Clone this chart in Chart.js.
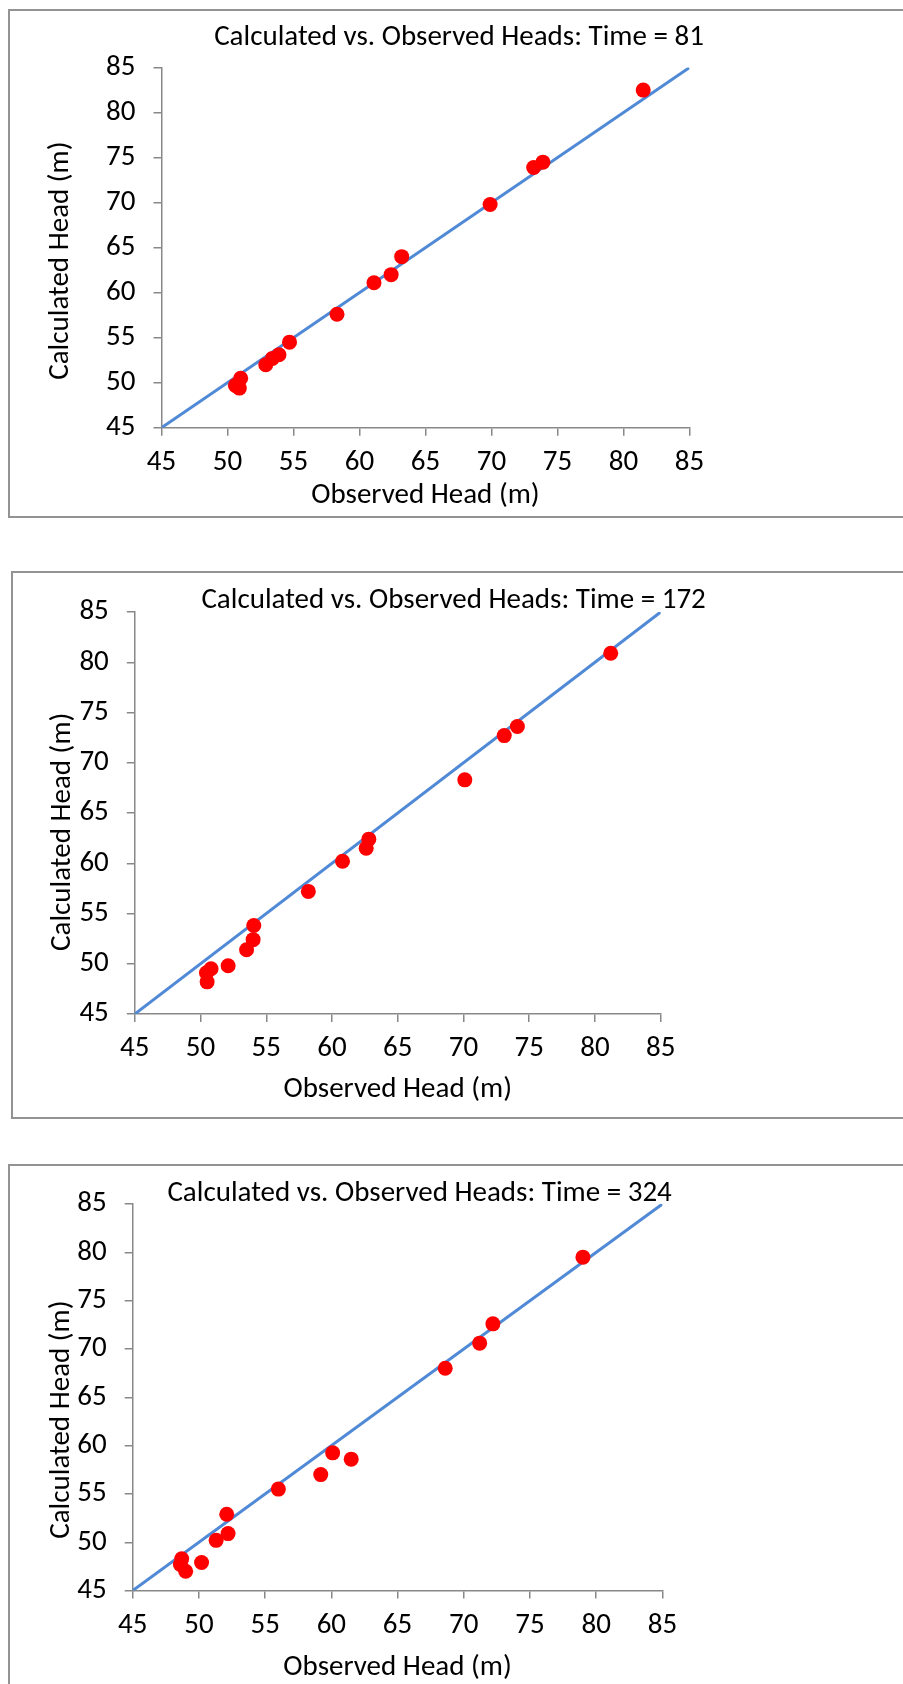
<!DOCTYPE html>
<html>
<head>
<meta charset="utf-8">
<script src="https://cdn.jsdelivr.net/npm/chart.js@4.4.1/dist/chart.umd.min.js"></script>
<style>
  html, body { margin: 0; padding: 0; background: #fff; }
  body { width: 903px; height: 1684px; position: relative; overflow: hidden; }
  .frame { position: absolute; border: 2px solid #939393; border-right: none; box-sizing: border-box; width: 1000px; }
  canvas { position: absolute; left: 0; }
</style>
</head>
<body>
<div class="frame" style="left:8px;top:9px;height:509px"></div>
<div class="frame" style="left:11px;top:571px;height:548px"></div>
<div class="frame" style="left:8px;top:1164px;height:600px"></div>
<canvas id="chart81" style="top:0px"></canvas>
<canvas id="chart172" style="top:540px"></canvas>
<canvas id="chart324" style="top:1140px"></canvas>
<script>
// observed vs calculated heads (m)
const obs81 = [50.6, 50.9, 51.0, 52.9, 53.4, 53.9, 54.7, 58.3, 61.1, 62.4, 63.2, 69.9, 73.2, 73.9, 81.5];
const calc81 = [49.7, 49.4, 50.5, 52.0, 52.7, 53.1, 54.5, 57.6, 61.1, 62.0, 64.0, 69.8, 73.9, 74.5, 82.5];

const obs172 = [50.5, 50.45, 50.8, 52.1, 53.5, 54.0, 54.05, 58.2, 60.8, 62.6, 62.8, 70.1, 73.1, 74.1, 81.2];
const calc172 = [48.2, 49.1, 49.5, 49.8, 51.4, 52.4, 53.8, 57.2, 60.2, 61.5, 62.4, 68.3, 72.7, 73.6, 80.9];

const obs324 = [48.6, 48.7, 49.0, 50.2, 51.3, 52.1, 52.2, 56.0, 59.2, 60.1, 61.5, 68.6, 71.2, 72.2, 79.0];
const calc324 = [47.7, 48.3, 47.0, 47.9, 50.2, 52.9, 50.9, 55.5, 57.0, 59.25, 58.6, 68.0, 70.6, 72.6, 79.5];

// 1:1 line and axis ticks
const lineX = [45, 85];
const lineY = [45, 85];
const tickValues = [45, 50, 55, 60, 65, 70, 75, 80, 85];

const xTitle = "Observed Head (m)";
const yTitle = "Calculated Head (m)";
const titlePrefix = "Calculated vs. Observed Heads: Time = ";

const FONT = "Carlito, Calibri, Lato, 'Open Sans', sans-serif";
const FONT_SIZE = 29;
Chart.defaults.font.family = FONT;
Chart.defaults.font.size = FONT_SIZE;
Chart.defaults.color = "#000";

// chart title and rotated y title are placed by hand, like in the original sheet
const extraText = {
    id: "extraText",
    afterDraw(chart, args, opts) {
        const ctx = chart.ctx;
        ctx.save();
        ctx.fillStyle = "#000";
        ctx.font = FONT_SIZE + "px " + FONT;
        ctx.textAlign = "center";
        ctx.textBaseline = "middle";
        ctx.fillText(opts.title, opts.titleX, opts.titleY);
        ctx.translate(opts.yTitleX, opts.yTitleY);
        ctx.rotate(-Math.PI / 2);
        ctx.fillText(yTitle, 0, 0);
        ctx.restore();
    }
};

function axis(extra) {
    return Object.assign({
        type: "linear",
        min: tickValues[0],
        max: tickValues[tickValues.length - 1],
        afterBuildTicks: s => { s.ticks = tickValues.map(v => ({ value: v })); },
        ticks: { autoSkip: false, maxRotation: 0, color: "#000" },
        grid: { drawOnChartArea: false, drawTicks: true, tickLength: 8, color: "#888", lineWidth: 1.5 },
        border: { display: true, color: "#888", width: 1.5 }
    }, extra);
}

function drawChart(id, obs, calc, time, lay) {
    const canvas = document.getElementById(id);
    canvas.width = 903;
    canvas.height = lay.h;
    canvas.style.width = "903px";
    canvas.style.height = lay.h + "px";

    const xAxis = axis({
        afterFit: s => { s.height = lay.h - lay.bottom; },
        title: {
            display: true, text: xTitle, color: "#000",
            padding: { top: 0, bottom: lay.h - lay.xTitleY - FONT_SIZE * 0.6 }
        }
    });
    xAxis.ticks = Object.assign({}, xAxis.ticks, { padding: lay.xTickPad });

    const yAxis = axis({ afterFit: s => { s.width = lay.left; } });
    yAxis.ticks = Object.assign({}, yAxis.ticks, { padding: 18 });

    return new Chart(canvas, {
        type: "scatter",
        data: {
            datasets: [
                {
                    data: obs.map((x, i) => ({ x: x, y: calc[i] })),
                    backgroundColor: "#ff0000",
                    borderWidth: 0,
                    pointRadius: 7.5,
                    order: 0
                },
                {
                    type: "line",
                    data: lineX.map((x, i) => ({ x: x, y: lineY[i] })),
                    borderColor: "#5089d6",
                    borderWidth: 3,
                    pointRadius: 0,
                    fill: false,
                    order: 1
                }
            ]
        },
        options: {
            responsive: false,
            animation: false,
            events: [],
            layout: { padding: { left: 0, top: lay.top, right: 903 - lay.right, bottom: 0 } },
            scales: { x: xAxis, y: yAxis },
            plugins: {
                legend: { display: false },
                tooltip: { enabled: false },
                extraText: {
                    title: titlePrefix + time,
                    titleX: lay.titleX, titleY: lay.titleY,
                    yTitleX: lay.yTitleX, yTitleY: lay.yTitleY
                }
            }
        },
        plugins: [extraText]
    });
}

drawChart("chart81", obs81, calc81, 81, {
    h: 540, left: 161.5, top: 67.6, right: 689.4, bottom: 427.7,
    titleX: 459, titleY: 38, yTitleX: 60.5, yTitleY: 260.6, xTitleY: 496, xTickPad: 9.6
});
drawChart("chart172", obs172, calc172, 172, {
    h: 600, left: 134.8, top: 72, right: 660.7, bottom: 474,
    titleX: 453.6, titleY: 60.5, yTitleX: 63, yTitleY: 291.8, xTitleY: 550, xTickPad: 9
});
drawChart("chart324", obs324, calc324, 324, {
    h: 544, left: 132.7, top: 64, right: 662.4, bottom: 450.6,
    titleX: 419.6, titleY: 53.6, yTitleX: 61.3, yTitleY: 279.6, xTitleY: 527.7, xTickPad: 9.8
});
</script>
</body>
</html>
